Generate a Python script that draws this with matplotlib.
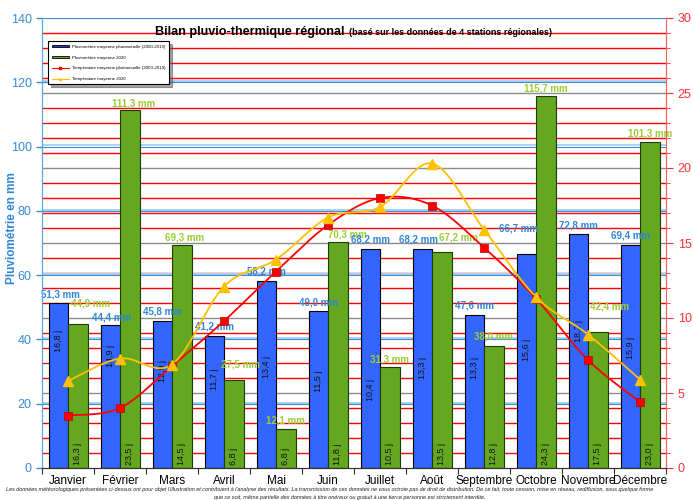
import matplotlib.pyplot as plt
import numpy as np
from matplotlib.patches import Patch
from matplotlib.lines import Line2D

plt.rcParams['font.family'] = ['Liberation Sans', 'DejaVu Sans']

# données régionales (moyenne de 4 stations)
mois = ["Janvier", "Février", "Mars", "Avril", "Mai", "Juin", "Juillet",
        "Août", "Septembre", "Octobre", "Novembre", "Décembre"]
pluie_normale = [51.3, 44.4, 45.8, 41.2, 58.2, 49.0, 68.2, 68.2, 47.6, 66.7, 72.8, 69.4]
jours_normale = [16.8, 14.9, 12.9, 11.7, 13.4, 11.5, 10.4, 13.3, 13.3, 15.6, 18.2, 15.9]
pluie_2020 = [44.9, 111.3, 69.3, 27.5, 12.1, 70.3, 31.3, 67.2, 38.0, 115.7, 42.4, 101.3]
jours_2020 = [16.3, 23.5, 14.5, 6.8, 6.8, 11.8, 10.5, 13.5, 12.8, 24.3, 17.5, 23.0]
temp_normale = [3.5, 4.0, 6.8, 9.8, 13.1, 16.2, 18.0, 17.5, 14.7, 11.3, 7.2, 4.4]
temp_2020 = [5.8, 7.3, 6.9, 12.1, 13.9, 16.7, 17.4, 20.3, 15.9, 11.4, 8.9, 5.9]

# décalages des étiquettes (pixels) : (dx, dy au-dessus du haut de barre)
decal_normale = [(2, 9), (1, 8), (0, 9), (0, 9), (0, 9), (0, 8),
                 (0, 9), (-4, 9), (0, 9), (-8, 25), (0, 9), (0, 9)]
decal_2020 = [(13, 20), (4, 7), (3, 8), (7, 15), (0, 9), (10, 8),
              (0, 8), (17, 15), (0, 9), (0, 8), (12, 25), (0, 9)]

BLEU = '#3366ff'
VERT = '#63a81e'
ROUGE = '#ff0000'
JAUNE = '#ffc000'
BLEU_TXT = '#2f86d6'
VERT_TXT = '#9acd32'


def lisse(x, y, n=24):
    # courbe lissée type Catmull-Rom passant par les points
    x = np.asarray(x, float)
    y = np.asarray(y, float)
    xs, ys = [], []
    t = np.linspace(0, 1, n)
    for i in range(len(x) - 1):
        i0, i3 = max(i - 1, 0), min(i + 2, len(x) - 1)
        for src, dst in ((x, xs), (y, ys)):
            p0, p1, p2, p3 = src[i0], src[i], src[i + 1], src[i3]
            dst.append(0.5 * (2 * p1 + (-p0 + p2) * t
                              + (2 * p0 - 5 * p1 + 4 * p2 - p3) * t ** 2
                              + (-p0 + 3 * p1 - 3 * p2 + p3) * t ** 3))
    return np.concatenate(xs), np.concatenate(ys)


fig = plt.figure(figsize=(6.93, 5), dpi=100)
ax = fig.add_axes([42 / 693, 32 / 500, 624 / 693, 450 / 500])
ax2 = ax.twinx()

x = np.arange(len(mois))
w = 0.375
MM_MAX, T_MAX = 140, 30

# quadrillage : rouge tous les 1 °C, gris tous les 5 °C, bleu tous les 20 mm
for t in range(1, T_MAX):
    ax.axhline(t * MM_MAX / T_MAX, color='#8c8c8c' if t % 5 == 0 else ROUGE,
               lw=1, zorder=0.5)
for v in range(20, MM_MAX + 1, 20):
    ax.axhline(v + 0.35, color='#a9d3f0', lw=1.4, zorder=0.6)
    ax.axhline(v, color='#3a8ad6', lw=0.8, zorder=0.7)

ax.bar(x - w / 2, pluie_normale, w, color=BLEU, edgecolor='black', lw=0.8, zorder=2)
ax.bar(x + w / 2, pluie_2020, w, color=VERT, edgecolor='#1f3a0a', lw=0.8, zorder=2)

px = 0.72  # points par pixel à 100 dpi
for i in range(len(mois)):
    dx, dy = decal_normale[i]
    ax.annotate(f"{pluie_normale[i]:.1f} mm".replace('.', ','),
                (x[i] - w / 2, pluie_normale[i]), xytext=(dx * px, dy * px),
                textcoords='offset points', ha='center', va='center',
                color=BLEU_TXT, fontsize=7, fontweight='bold', zorder=3)
    dx, dy = decal_2020[i]
    ax.annotate(f"{pluie_2020[i]:.1f} mm".replace('.', ','),
                (x[i] + w / 2, pluie_2020[i]), xytext=(dx * px, dy * px),
                textcoords='offset points', ha='center', va='center',
                color=VERT_TXT, fontsize=7, fontweight='bold', zorder=3)
    # nombre de jours de pluie
    ax.text(x[i] - w / 2, jours_normale[i] * 2.35, f"{jours_normale[i]:.1f} j".replace('.', ','),
            rotation=90, ha='center', va='center', fontsize=6.5, color='#111111', zorder=3)
    ax.annotate(f"{jours_2020[i]:.1f} j".replace('.', ','), (x[i] + w / 2, 0),
                xytext=(0, 3 * px), textcoords='offset points', rotation=90,
                ha='center', va='bottom', fontsize=6.5, color='#111111', zorder=3)

# températures
xs, ys = lisse(x, temp_normale)
ax2.plot(xs, ys, color=ROUGE, lw=1.3, zorder=3)
ax2.plot(x, temp_normale, ls='none', marker='s', ms=5.5, color=ROUGE,
         mec='#c00000', mew=0.5, zorder=4)
xs, ys = lisse(x, temp_2020)
ax2.plot(xs, ys, color=JAUNE, lw=1.3, zorder=3)
ax2.plot(x, temp_2020, ls='none', marker='^', ms=7, color=JAUNE, zorder=4)

ax.set_xlim(-0.5, len(mois) - 0.5)
ax.set_ylim(0, MM_MAX)
ax2.set_ylim(0, T_MAX)

ax.set_xticks(np.arange(-0.5, len(mois), 1))
ax.set_xticklabels([])
ax.set_xticks(x, minor=True)
ax.set_xticklabels(mois, minor=True, fontsize=8.5)
ax.tick_params(axis='x', which='major', length=4, color='#333333')
ax.tick_params(axis='x', which='minor', length=0, pad=5)

ax.set_yticks(range(0, MM_MAX + 1, 20))
ax.tick_params(axis='y', colors='#3a8ad6', labelsize=9, length=4, width=1)
fig.text(12 / 693, 1 - 228 / 500, "Pluviométrie en mm", rotation=90,
         color=BLEU_TXT, fontsize=8.5, fontweight='bold', ha='center', va='center')

ax2.set_yticks(range(0, T_MAX + 1, 5))
ax2.set_yticks(range(0, T_MAX + 1), minor=True)
ax2.tick_params(axis='y', which='major', colors='#ff3030', labelsize=9, length=5)
ax2.tick_params(axis='y', which='minor', color='#ff3030', length=3)

for a in (ax, ax2):
    a.spines['top'].set_visible(False)
    a.spines['left'].set_color('#5aa5e0')
    a.spines['right'].set_color('#ff6060')
    a.spines['bottom'].set_color('#333333')

handles = [Patch(facecolor='#1f3fbf', edgecolor='black', lw=0.6),
           Patch(facecolor=VERT, edgecolor='black', lw=0.6),
           Line2D([], [], color=ROUGE, lw=0.8, marker='s', ms=1.5),
           Line2D([], [], color=JAUNE, lw=0.8, marker='^', ms=1.5)]
labels = ["Pluviométrie moyenne pluriannuelle (2000-2019)",
          "Pluviométrie moyenne 2020",
          "Température moyenne pluriannuelle (2000-2019)",
          "Température moyenne 2020"]
leg = ax2.legend(handles, labels, loc='upper left', bbox_to_anchor=(0.006, 0.953),
                 fontsize=3.2, handlelength=4.0, handleheight=0.4, labelspacing=1.5,
                 handletextpad=0.6, borderpad=0.8, frameon=True, fancybox=False,
                 shadow=True, edgecolor='black', framealpha=1)
leg.get_frame().set_linewidth(0.8)

fig.text(155 / 693, 1 - 35 / 500, "Bilan pluvio-thermique régional",
         fontsize=9.1, fontweight='bold', ha='left', va='baseline')
fig.text(349 / 693, 1 - 35 / 500, "(basé sur les données de 4 stations régionales)",
         fontsize=6.5, fontweight='bold', ha='left', va='baseline')

fig.text(6 / 693, 1 - 490 / 500,
         "Les données météorologiques présentées ci-dessus ont pour objet l'illustration et "
         "contribuent à l'analyse des résultats. La transmission de ces données ne vous octroie "
         "pas de droit de distribution. De ce fait, toute cession, mise en réseau, rediffusion, "
         "sous quelque forme",
         fontsize=4.0, style='italic', ha='left', va='center', color='#222222')
fig.text(350 / 693, 1 - 497 / 500,
         "que ce soit, même partielle des données à titre onéreux ou gratuit à une tierce "
         "personne est strictement interdite.",
         fontsize=4.0, style='italic', ha='center', va='center', color='#222222')

fig.savefig("out.png", dpi=100)
